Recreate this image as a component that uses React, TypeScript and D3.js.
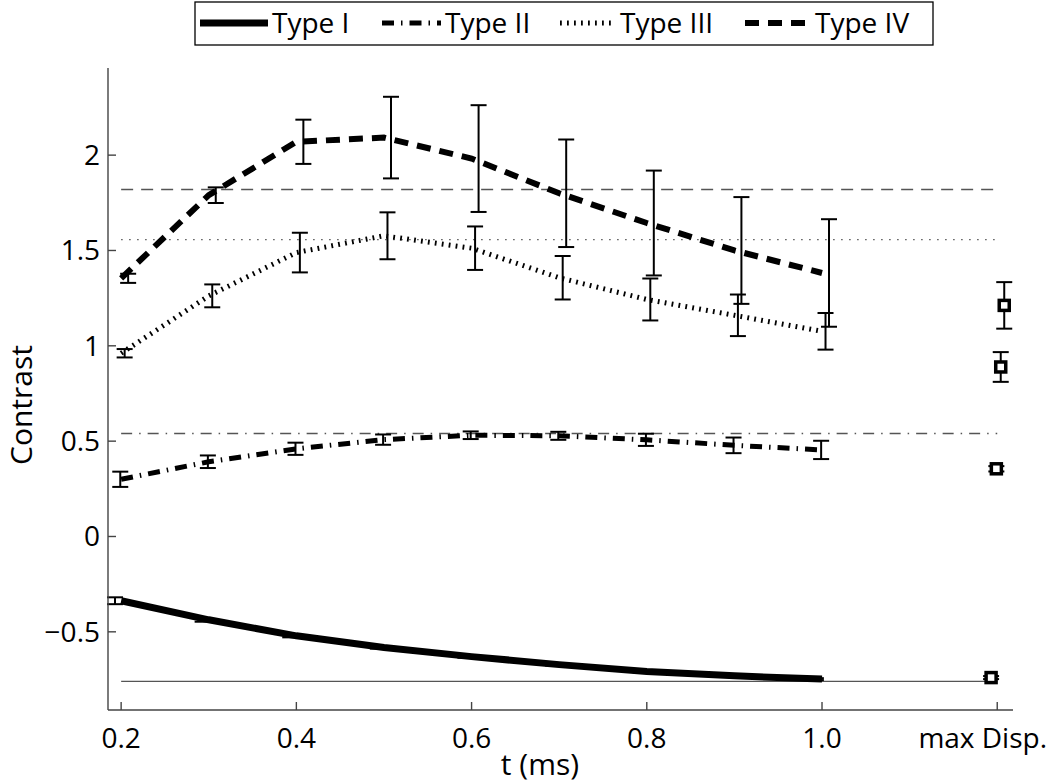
import React from "react";
import * as d3 from "d3";

// ---- data ----
const tValues = [0.2, 0.3, 0.4, 0.5, 0.6, 0.7, 0.8, 0.9, 1.0];
const typeI = [-0.337, -0.437, -0.521, -0.582, -0.63, -0.672, -0.708, -0.731, -0.748];
const typeIErr = [0.018, 0.01, 0.008, 0.006, 0.006, 0.005, 0.005, 0.005, 0.005];
const typeII = [0.3, 0.392, 0.46, 0.508, 0.531, 0.528, 0.507, 0.478, 0.454];
const typeIIErr = [0.04, 0.033, 0.032, 0.027, 0.02, 0.021, 0.032, 0.041, 0.048];
const typeIII = [0.961, 1.262, 1.489, 1.577, 1.512, 1.357, 1.243, 1.16, 1.076];
const typeIIIErr = [0.022, 0.06, 0.104, 0.123, 0.114, 0.114, 0.11, 0.109, 0.096];
const typeIV = [1.354, 1.79, 2.07, 2.092, 1.982, 1.8, 1.644, 1.5, 1.382];
const typeIVErr = [0.024, 0.041, 0.116, 0.214, 0.28, 0.282, 0.275, 0.28, 0.282];
const maxDisp = [-0.74, 0.355, 0.889, 1.212];
const maxDispErr = [0.008, 0.014, 0.078, 0.122];
const refLevels = [-0.76, 0.54, 1.557, 1.82];
const typeNames = ["Type I", "Type II", "Type III", "Type IV"];
const maxDispX = 1.2;
const maxDispLabel = "max Disp.";
const xTicks = [0.2, 0.4, 0.6, 0.8, 1.0];
const xTickLabels = ["0.2", "0.4", "0.6", "0.8", "1.0"];
const yTicks = [-0.5, 0, 0.5, 1, 1.5, 2];
const yTickLabels = ["\u22120.5", "0", "0.5", "1", "1.5", "2"];

// ---- styling ----
const FONT = "'Open Sans', 'Noto Sans', sans-serif";
const seriesStyle = [
  { width: 7, dash: "none" },
  { width: 5, dash: "12,7,1.5,7" },
  { width: 5, dash: "1.8,5.2" },
  { width: 6, dash: "14,9" },
];
const refStyle = ["none", "11,7,1.5,7", "1.5,6.5", "12,8"];
const errOffset = [-0.007, -0.001, 0.004, 0.008];

export default function App() {
  const W = 1050, H = 784;
  const x = d3.scaleLinear().domain([0.185, 1.218]).range([108, 1013]);
  const y = d3.scaleLinear().domain([-0.91, 2.457]).range([710, 68]);
  const series = [typeI, typeII, typeIII, typeIV];
  const errs = [typeIErr, typeIIErr, typeIIIErr, typeIVErr];
  const line = d3
    .line<number>()
    .x((_, i) => x(tValues[i]))
    .y((d) => y(d));
  const cap = 8;

  const errBar = (xv: number, m: number, e: number, key: string) => {
    const px = x(xv);
    return (
      <g key={key} stroke="#000" strokeWidth={2} fill="none">
        <line x1={px} x2={px} y1={y(m - e)} y2={y(m + e)} />
        <line x1={px - cap} x2={px + cap} y1={y(m - e)} y2={y(m - e)} />
        <line x1={px - cap} x2={px + cap} y1={y(m + e)} y2={y(m + e)} />
      </g>
    );
  };

  const legendItems = [
    { lx: 200, tx: 272 },
    { lx: 382, tx: 445 },
    { lx: 560, tx: 620 },
    { lx: 745, tx: 815 },
  ];

  return (
    <svg
      width={W}
      height={H}
      style={{ position: "absolute", left: 0, top: 0, background: "#fff" }}
      fontFamily={FONT}
    >
      <rect width={W} height={H} fill="#fff" />
      {/* reference lines */}
      {refLevels.map((v, i) => (
        <line
          key={"ref" + i}
          x1={x(0.2)}
          x2={x(maxDispX)}
          y1={y(v)}
          y2={y(v)}
          stroke="#555"
          strokeWidth={1.4}
          strokeDasharray={refStyle[i]}
        />
      ))}
      {/* series lines */}
      {series.map((s, i) => (
        <path
          key={"s" + i}
          d={line(s) || ""}
          fill="none"
          stroke="#000"
          strokeWidth={seriesStyle[i].width}
          strokeDasharray={seriesStyle[i].dash}
        />
      ))}
      {/* error bars */}
      {series.map((s, i) =>
        s.map((m, j) => errBar(tValues[j] + errOffset[i], m, errs[i][j], `e${i}-${j}`))
      )}
      {/* max disp points */}
      {maxDisp.map((m, i) => (
        <g key={"md" + i}>
          {errBar(maxDispX + errOffset[i], m, maxDispErr[i], "mde" + i)}
          <rect
            x={x(maxDispX + errOffset[i]) - 5}
            y={y(m) - 5}
            width={10}
            height={10}
            fill="#fff"
            stroke="#000"
            strokeWidth={3.5}
          />
        </g>
      ))}
      {/* axes */}
      <g stroke="#444" strokeWidth={1.4}>
        <line x1={108} x2={108} y1={y.range()[1]} y2={y.range()[0]} />
        <line x1={108} x2={x.range()[1]} y1={710} y2={710} />
        {xTicks.concat([maxDispX]).map((t, i) => (
          <line key={"xt" + i} x1={x(t)} x2={x(t)} y1={710} y2={702} />
        ))}
        {yTicks.map((t, i) => (
          <line key={"yt" + i} x1={108} x2={116} y1={y(t)} y2={y(t)} />
        ))}
      </g>
      <g fontSize={28} fill="#000">
        {xTicks.map((t, i) => (
          <text key={"xl" + i} x={x(t)} y={748} textAnchor="middle">
            {xTickLabels[i]}
          </text>
        ))}
        <text x={1047} y={748} textAnchor="end">
          {maxDispLabel}
        </text>
        {yTicks.map((t, i) => (
          <text key={"yl" + i} x={100} y={y(t)} dy="0.35em" textAnchor="end">
            {yTickLabels[i]}
          </text>
        ))}
      </g>
      <g fontSize={30} fill="#000">
        <text x={540} y={775} textAnchor="middle">
          t (ms)
        </text>
        <text transform="translate(32,405) rotate(-90)" textAnchor="middle">
          Contrast
        </text>
      </g>
      {/* legend */}
      <rect x={195} y={2} width={738} height={43} fill="#fff" stroke="#000" strokeWidth={1.3} />
      {legendItems.map((it, i) => (
        <g key={"lg" + i}>
          <line
            x1={it.lx}
            x2={it.tx - 4}
            y1={23}
            y2={23}
            stroke="#000"
            strokeWidth={seriesStyle[i].width}
            strokeDasharray={seriesStyle[i].dash}
          />
          <text x={it.tx} y={33} fontSize={28} fill="#000">
            {typeNames[i]}
          </text>
        </g>
      ))}
    </svg>
  );
}
